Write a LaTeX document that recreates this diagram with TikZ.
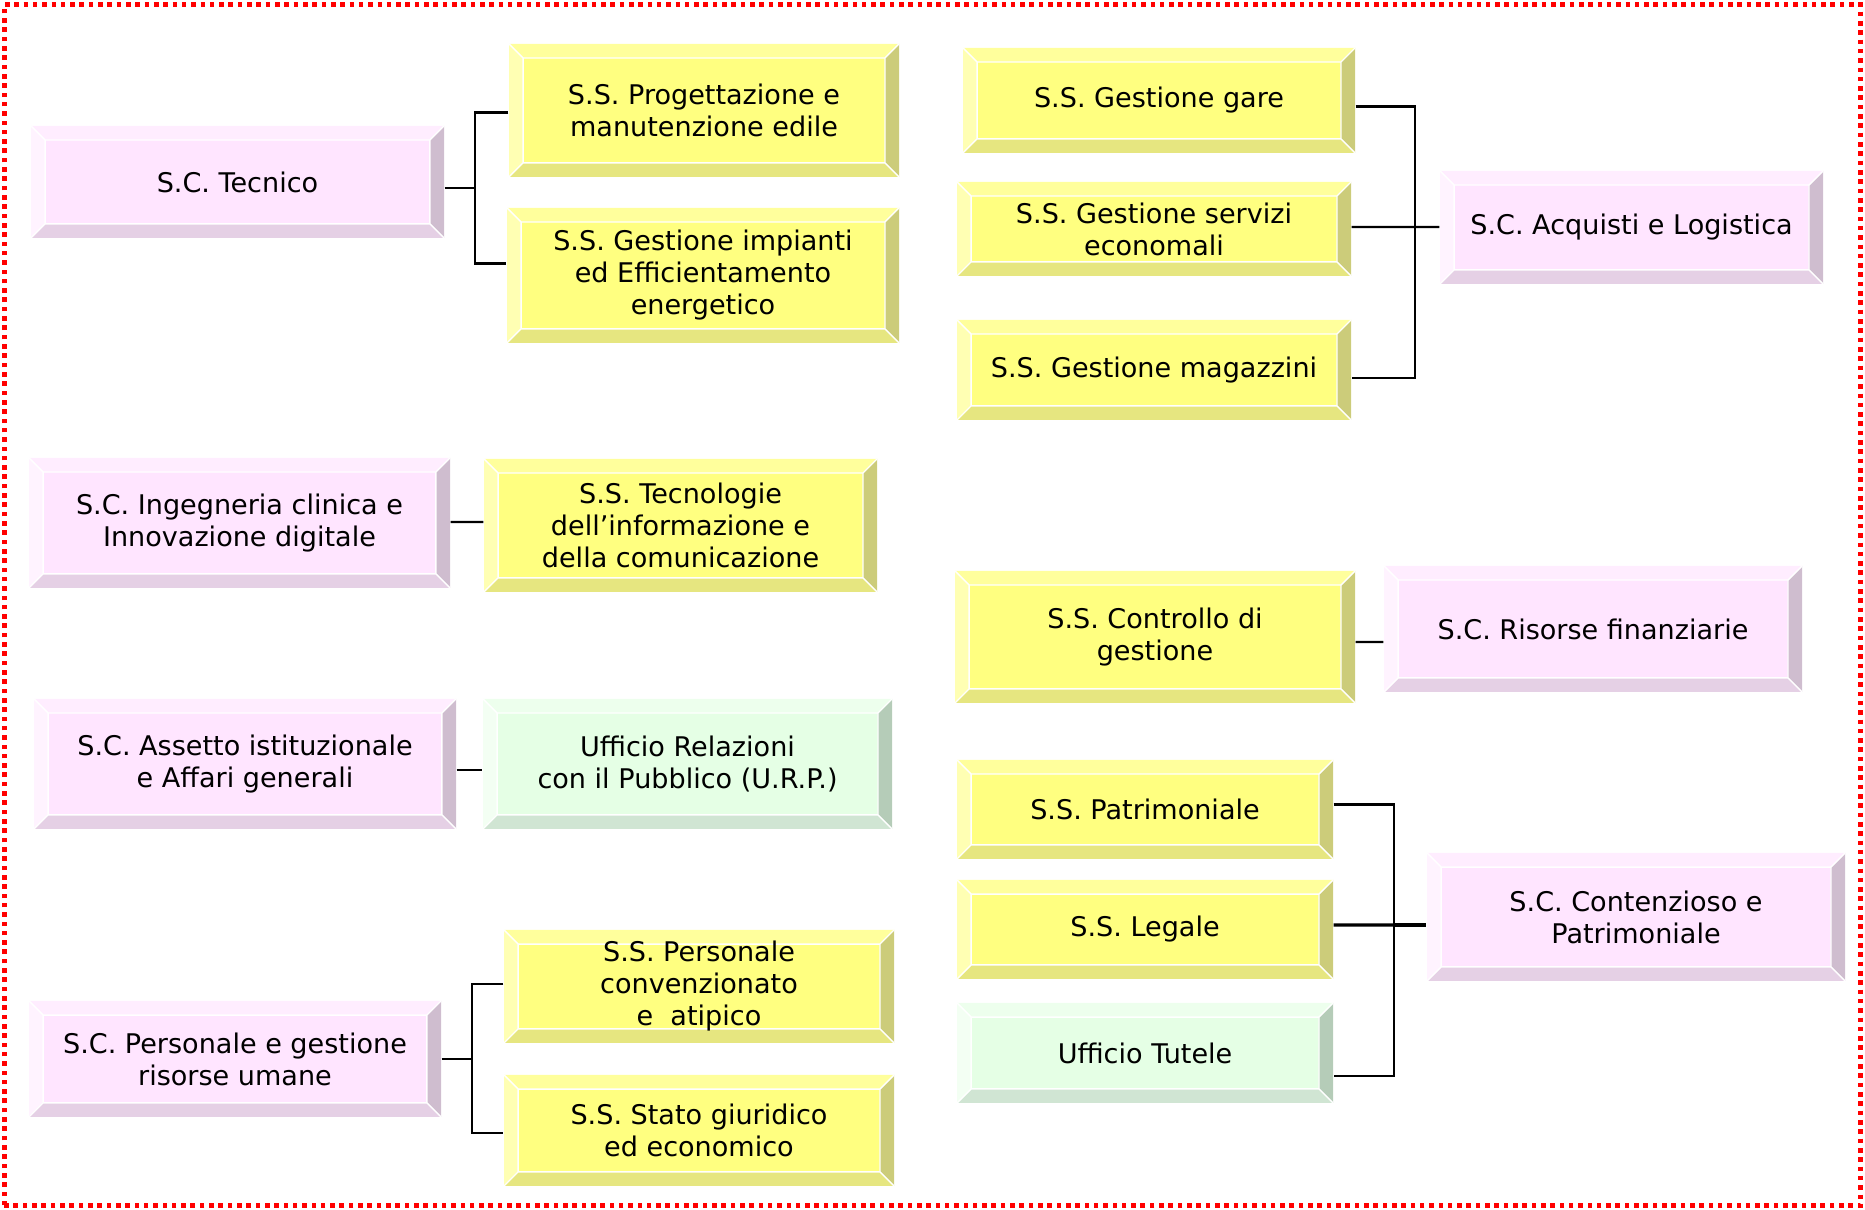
\documentclass[tikz,border=0pt]{standalone}
\usepackage{fontspec}
\setmainfont{DejaVu Sans}

\definecolor{scface}{HTML}{FFE5FF}
\definecolor{sctop}{HTML}{FFEDFF}
\definecolor{scleft}{HTML}{FFF3FF}
\definecolor{scright}{HTML}{CFBDCF}
\definecolor{scbot}{HTML}{E5D0E5}
\definecolor{ssface}{HTML}{FFFF80}
\definecolor{sstop}{HTML}{FFFF9C}
\definecolor{ssleft}{HTML}{FFFFB3}
\definecolor{ssright}{HTML}{CCCC7A}
\definecolor{ssbot}{HTML}{E6E680}
\definecolor{ufface}{HTML}{E5FFE5}
\definecolor{uftop}{HTML}{EDFFED}
\definecolor{ufleft}{HTML}{F3FFF3}
\definecolor{ufright}{HTML}{B5CCB8}
\definecolor{ufbot}{HTML}{D0E5D3}

\newcommand{\bevelw}{4pt}

\tikzset{
  kind/.store in=\boxkind,
  wh/.style 2 args={minimum width=#1cm, minimum height=#2cm},
  bevelbox/.style={rectangle, inner sep=0pt, align=center,
    font=\fontsize{7.7}{9.1}\selectfont, fill=\boxkind face,
    path picture={
      \coordinate (ppnw) at (path picture bounding box.north west);
      \coordinate (ppse) at (path picture bounding box.south east);
      \coordinate (qnw) at ([shift={(\bevelw,-\bevelw)}]ppnw);
      \coordinate (qse) at ([shift={(-\bevelw,\bevelw)}]ppse);
      \fill[fill=\boxkind top] (ppnw) -- (ppnw -| ppse) -- (qnw -| qse) -- (qnw) -- cycle;
      \fill[fill=\boxkind left] (ppnw) -- (qnw) -- (qnw |- qse) -- (ppnw |- ppse) -- cycle;
      \fill[fill=\boxkind right] (ppnw -| ppse) -- (ppse) -- (qse) -- (qnw -| qse) -- cycle;
      \fill[fill=\boxkind bot] (ppnw |- ppse) -- (ppse) -- (qse) -- (qnw |- qse) -- cycle;
      \draw[white, line width=0.4pt] (qnw) rectangle (qse)
        (ppnw) -- (qnw) (ppse) -- (qse)
        (ppnw -| ppse) -- (qnw -| qse) (ppnw |- ppse) -- (qnw |- qse);
    }},
  scbox/.style={kind=sc, bevelbox},
  ssbox/.style={kind=ss, bevelbox},
  ufbox/.style={kind=uf, bevelbox},
  link/.style={line width=0.6pt, black}
}

\begin{document}
\begin{tikzpicture}
    \useasboundingbox (0,0) rectangle (18.65,12.10);
    \draw[red, line width=1.3pt, dash pattern=on 1.3pt off 1.35pt] (0.045,0.045) rectangle (18.605,12.055);

    % left column
    \node[scbox, wh={4.13}{1.12}] (tecnico) at (2.375,10.28) {S.C. Tecnico};
    \node[ssbox, wh={3.90}{1.33}] (progett) at (7.04,10.995) {S.S. Progettazione e\\manutenzione edile};
    \node[ssbox, wh={3.92}{1.35}] (impianti) at (7.03,9.345) {S.S. Gestione impianti\\ed Efficientamento\\energetico};

    \node[scbox, wh={4.21}{1.30}] (ingegneria) at (2.395,6.87) {S.C. Ingegneria clinica e\\Innovazione digitale};
    \node[ssbox, wh={3.93}{1.33}] (tecnologie) at (6.805,6.845) {S.S. Tecnologie\\dell’informazione e\\della comunicazione};

    \node[scbox, wh={4.22}{1.30}] (assetto) at (2.45,4.46) {S.C. Assetto istituzionale\\e Affari generali};
    \node[ufbox, wh={4.09}{1.30}] (urp) at (6.875,4.46) {Ufficio Relazioni\\con il Pubblico (U.R.P.)};

    \node[scbox, wh={4.12}{1.16}] (personale) at (2.35,1.51) {S.C. Personale e gestione\\risorse umane};
    \node[ssbox, wh={3.90}{1.13}] (convenz) at (6.99,2.235) {S.S. Personale\\convenzionato\\e\ \ atipico};
    \node[ssbox, wh={3.90}{1.11}] (stato) at (6.99,0.795) {S.S. Stato giuridico\\ed economico};

    % right column
    \node[ssbox, wh={3.92}{1.05}] (gare) at (11.59,11.095) {S.S. Gestione gare};
    \node[ssbox, wh={3.94}{0.94}] (servizi) at (11.54,9.81) {S.S. Gestione servizi\\economali};
    \node[ssbox, wh={3.94}{1.00}] (magazzini) at (11.54,8.40) {S.S. Gestione magazzini};
    \node[scbox, wh={3.83}{1.13}] (acquisti) at (16.315,9.825) {S.C. Acquisti e Logistica};

    \node[ssbox, wh={4.00}{1.32}] (controllo) at (11.55,5.73) {S.S. Controllo di\\gestione};
    \node[scbox, wh={4.18}{1.26}] (risorse) at (15.93,5.81) {S.C. Risorse finanziarie};

    \node[ssbox, wh={3.76}{0.99}] (sspatrim) at (11.45,4.005) {S.S. Patrimoniale};
    \node[ssbox, wh={3.76}{0.99}] (legale) at (11.45,2.805) {S.S. Legale};
    \node[ufbox, wh={3.76}{1.00}] (tutele) at (11.45,1.57) {Ufficio Tutele};
    \node[scbox, wh={4.18}{1.28}] (contenzioso) at (16.36,2.93) {S.C. Contenzioso e\\Patrimoniale};

    % connectors
    \coordinate (tbus) at (4.75,10.22);
    \draw[link] (tecnico.east |- tbus) -- (tbus);
    \draw[link] ([yshift=-0.2mm]progett.west) -| (tbus) |- ([yshift=1.2mm]impianti.west);

    \draw[link] ([yshift=0.1mm]ingegneria.east) -- ([yshift=0.35mm]tecnologie.west);
    \draw[link] ([yshift=-0.6mm]assetto.east) -- ([yshift=-0.6mm]urp.west);

    \coordinate (pbus) at (4.72,1.51);
    \draw[link] (personale.east) -- (pbus);
    \draw[link] ([yshift=0.25mm]convenz.west) -| (pbus) |- ([yshift=-0.25mm]stato.west);

    \coordinate (abus) at (14.15,9.83);
    \draw[link] ([yshift=-0.6mm]gare.east) -| (abus) |- ([yshift=-0.8mm]magazzini.east);
    \draw[link] ([yshift=0.2mm]servizi.east) -- (abus) -- (abus -| acquisti.west);

    \draw[link] ([yshift=-0.5mm]controllo.east) -- ([yshift=-1.3mm]risorse.west);

    \coordinate (cbus) at (13.94,2.85);
    \draw[link] ([yshift=0.5mm]sspatrim.east) -| (cbus) |- ([yshift=-2.3mm]tutele.east);
    \path [link, line width=0.9pt] ([yshift=0.45mm]legale.east) edge (cbus) (cbus) edge (cbus -| contenzioso.west);
\end{tikzpicture}
\end{document}
